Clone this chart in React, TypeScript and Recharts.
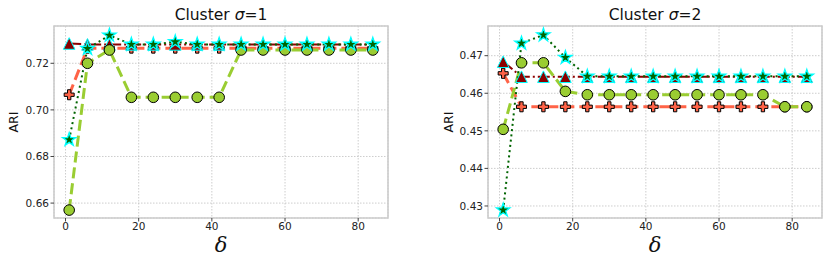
import React from 'react';
import { LineChart, Line, XAxis, YAxis, CartesianGrid, ReferenceArea } from 'recharts';

const deltas = [1, 6, 12, 18, 24, 30, 36, 42, 48, 54, 60, 66, 72, 78, 84];
const xTicks = [0, 20, 40, 60, 80];

// sigma = 1
const circ1 = [0.657, 0.72, 0.7257, 0.7054, 0.7054, 0.7054, 0.7054, 0.7054, 0.7257, 0.7257, 0.7257, 0.7257, 0.7257, 0.7257, 0.7257];
const cross1 = [0.7065, 0.7265, 0.7265, 0.7265, 0.7265, 0.7265, 0.7265, 0.7265, 0.7265, 0.7265, 0.7265, 0.7265, 0.7265, 0.7265, 0.7265];
const tri1 = [0.7285, 0.7281, 0.7281, 0.7281, 0.7281, 0.7281, 0.7281, 0.7281, 0.7281, 0.7281, 0.7281, 0.7281, 0.7281, 0.7281, 0.7281];
const star1 = [0.6872, 0.7263, 0.732, 0.7281, 0.7281, 0.7292, 0.7281, 0.7281, 0.7281, 0.7281, 0.7281, 0.7281, 0.7281, 0.7281, 0.7281];
const yTicks1 = [0.66, 0.68, 0.7, 0.72];

// sigma = 2
const circ2 = [0.4504, 0.4681, 0.4681, 0.4605, 0.4596, 0.4596, 0.4596, 0.4596, 0.4596, 0.4596, 0.4596, 0.4596, 0.4596, 0.4564, 0.4564];
const cross2 = [0.4653, 0.4564, 0.4564, 0.4564, 0.4564, 0.4564, 0.4564, 0.4564, 0.4564, 0.4564, 0.4564, 0.4564, 0.4564, 0.4564, 0.4564];
const tri2 = [0.4684, 0.4644, 0.4644, 0.4644, 0.4644, 0.4644, 0.4644, 0.4644, 0.4644, 0.4644, 0.4644, 0.4644, 0.4644, 0.4644, 0.4644];
const star2 = [0.4289, 0.4733, 0.4755, 0.4695, 0.4645, 0.4645, 0.4645, 0.4645, 0.4645, 0.4645, 0.4645, 0.4645, 0.4645, 0.4645, 0.4645];
const yTicks2 = [0.43, 0.44, 0.45, 0.46, 0.47];

const font = '"DejaVu Sans", sans-serif';

function CircleDot({ cx, cy }: any) {
  if (cx == null || cy == null) return null;
  return <circle cx={cx} cy={cy} r={5.3} fill="#9acd32" stroke="#000" strokeWidth={1} />;
}

function PlusDot({ cx, cy }: any) {
  if (cx == null || cy == null) return null;
  const s = 10;
  const a = s / 2;
  const t = s / 6;
  const pts = [
    [-t, -a], [t, -a], [t, -t], [a, -t], [a, t], [t, t],
    [t, a], [-t, a], [-t, t], [-a, t], [-a, -t], [-t, -t],
  ].map(([x, y]) => `${cx + x},${cy + y}`).join(' ');
  return <polygon points={pts} fill="#ff6347" stroke="#000" strokeWidth={1} />;
}

function TriDot({ cx, cy }: any) {
  if (cx == null || cy == null) return null;
  const h = 5.8;
  return (
    <polygon
      points={`${cx},${cy - h} ${cx - h},${cy + h} ${cx + h},${cy + h}`}
      fill="#8b0000"
      stroke="#00ffff"
      strokeWidth={1}
    />
  );
}

function StarDot({ cx, cy }: any) {
  if (cx == null || cy == null) return null;
  const R = 7;
  const r = R * 0.382;
  const pts: string[] = [];
  for (let k = 0; k < 10; k++) {
    const ang = (-90 + k * 36) * Math.PI / 180;
    const rr = k % 2 === 0 ? R : r;
    pts.push(`${cx + rr * Math.cos(ang)},${cy + rr * Math.sin(ang)}`);
  }
  return <polygon points={pts.join(' ')} fill="#006400" stroke="#00ffff" strokeWidth={1.3} />;
}

interface PanelProps {
  left: number;
  marginLeft: number;
  marginRight: number;
  circ: number[];
  cross: number[];
  tri: number[];
  star: number[];
  yDomain: [number, number];
  yTicks: number[];
}

const xDomain: [number, number] = [-3.15, 88.15];

function Panel({ left, marginLeft, marginRight, circ, cross, tri, star, yDomain, yTicks }: PanelProps) {
  const data = deltas.map((d, i) => ({ delta: d, circ: circ[i], cross: cross[i], tri: tri[i], star: star[i] }));
  const tick = { fontSize: 10.5, fill: '#222', fontFamily: font };
  return (
    <div style={{ position: 'absolute', left, top: 0 }}>
      <LineChart width={415} height={268} data={data} margin={{ top: 26, right: marginRight, bottom: 0, left: marginLeft }}>
        <CartesianGrid stroke="#c0c0c0" strokeDasharray="1.5 1.5" strokeWidth={0.8} />
        <XAxis
          dataKey="delta"
          type="number"
          domain={xDomain}
          ticks={xTicks}
          allowDataOverflow
          height={50}
          tick={tick}
          tickSize={3.5}
          tickMargin={1}
          tickLine={{ stroke: '#444' }}
          axisLine={false}
        />
        <YAxis
          type="number"
          domain={yDomain}
          ticks={yTicks}
          allowDataOverflow
          interval={0}
          width={54}
          tick={tick}
          tickSize={3.5}
          tickMargin={1.5}
          tickLine={{ stroke: '#444' }}
          axisLine={false}
          tickFormatter={(v: number) => v.toFixed(2)}
        />
        <ReferenceArea x1={xDomain[0]} x2={xDomain[1]} y1={yDomain[0]} y2={yDomain[1]} fill="none" stroke="#cccccc" strokeWidth={1.6} ifOverflow="extendDomain" />
        <Line
          dataKey="cross"
          type="linear"
          stroke="#ff6347"
          strokeWidth={3}
          strokeDasharray="11 5"
          isAnimationActive={false}
          activeDot={false}
          dot={(p: any) => <PlusDot key={`p-${p.index}`} cx={p.cx} cy={p.cy} />}
        />
        <Line
          dataKey="tri"
          type="linear"
          stroke="#8b0000"
          strokeWidth={2}
          strokeDasharray="12 3 2 3"
          isAnimationActive={false}
          activeDot={false}
          dot={(p: any) => <TriDot key={`t-${p.index}`} cx={p.cx} cy={p.cy} />}
        />
        <Line
          dataKey="circ"
          type="linear"
          stroke="#9acd32"
          strokeWidth={3}
          strokeDasharray="11 5"
          isAnimationActive={false}
          activeDot={false}
          dot={(p: any) => <CircleDot key={`c-${p.index}`} cx={p.cx} cy={p.cy} />}
        />
        <Line
          dataKey="star"
          type="linear"
          stroke="#006400"
          strokeWidth={2}
          strokeDasharray="2 3.3"
          isAnimationActive={false}
          activeDot={false}
          dot={(p: any) => <StarDot key={`s-${p.index}`} cx={p.cx} cy={p.cy} />}
        />
      </LineChart>
    </div>
  );
}

function Labels() {
  const titles = [
    { x: 221, s: '1', ari: 13.3 },
    { x: 655, s: '2', ari: 448.5 },
  ];
  return (
    <svg width={830} height={268} style={{ position: 'absolute', left: 0, top: 0, pointerEvents: 'none' }}>
      {titles.map((t) => (
        <g key={t.s}>
          <text x={t.x} y={20} textAnchor="middle" fontFamily={font} fontSize={15.5} fill="#111">
            Cluster <tspan fontStyle="italic">σ</tspan>={t.s}
          </text>
          <text
            x={t.ari}
            y={122}
            textAnchor="middle"
            dominantBaseline="central"
            fontFamily={font}
            fontSize={12.5}
            fill="#111"
            transform={`rotate(-90 ${t.ari} 122)`}
          >
            ARI
          </text>
          <text x={t.x} y={252} textAnchor="middle" fontFamily='"DejaVu Serif", serif' fontStyle="italic" fontSize={21} fill="#111">
            δ
          </text>
        </g>
      ))}
    </svg>
  );
}

export default function App() {
  return (
    <div style={{ position: 'absolute', left: 0, top: 0, width: 830, height: 268, background: '#fff' }}>
      <Panel left={0} marginLeft={0} marginRight={27} circ={circ1} cross={cross1} tri={tri1} star={star1} yDomain={[0.6536, 0.736]} yTicks={yTicks1} />
      <Panel left={415} marginLeft={19} marginRight={8} circ={circ2} cross={cross2} tri={tri2} star={star2} yDomain={[0.4268, 0.4779]} yTicks={yTicks2} />
      <Labels />
    </div>
  );
}
